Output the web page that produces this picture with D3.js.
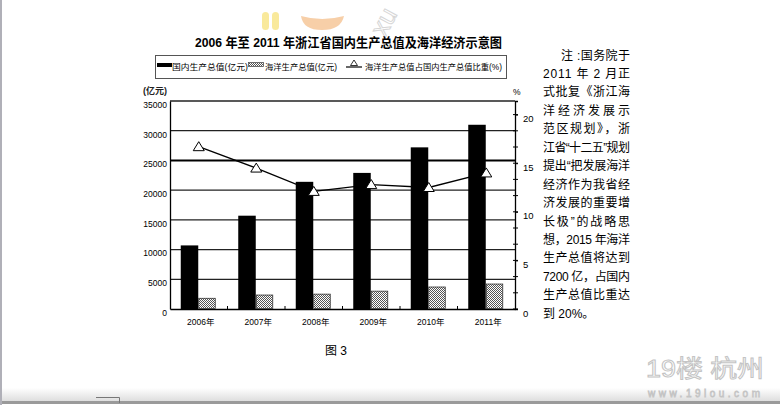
<!DOCTYPE html>
<html><head><meta charset="utf-8">
<script src="https://cdn.jsdelivr.net/npm/d3@7"></script>
<style>body{margin:0;background:#fff;}svg{display:block;}</style>
</head><body>
<script>
const years = ["2006年","2007年","2008年","2009年","2010年","2011年"];
const gdp = [10700, 15700, 21400, 22900, 27200, 31000];
const marine = [1800, 2350, 2500, 3000, 3700, 4200];
const ratio = [16.7, 14.5, 12.1, 12.8, 12.5, 14.0];
const leftTicks = [0,5000,10000,15000,20000,25000,30000,35000];
const rightTicks = [0,5,10,15,20];
const title = "2006 年至 2011 年浙江省国内生产总值及海洋经济示意图";
const legendLabels = ["国内生产总值(亿元)","海洋生产总值(亿元)","海洋生产总值占国内生产总值比重(%)"];
const noteLines = ["注 :国务院于","2011 年 2 月正","式批复《浙江海","洋经济发展示","范区规划》，浙","江省“十二五”规划","提出“把发展海洋","经济作为我省经","济发展的重要增","长极”的战略思","想，2015 年海洋","生产总值将达到","7200 亿，占国内","生产总值比重达","到 20%。"];

const W=780,H=405;
const svg=d3.select("body").append("svg").attr("width",W).attr("height",H);
const defs=svg.append("defs");
const pat=defs.append("pattern").attr("id","hatch").attr("width",2).attr("height",2).attr("patternUnits","userSpaceOnUse");
pat.append("rect").attr("width",2).attr("height",2).attr("fill","#fff");
pat.append("rect").attr("width",1).attr("height",1).attr("fill","#555");
pat.append("rect").attr("x",1).attr("y",1).attr("width",1).attr("height",1).attr("fill","#555");
const grad=defs.append("linearGradient").attr("id","bot").attr("x1",0).attr("x2",0).attr("y1",0).attr("y2",1);
grad.append("stop").attr("offset","0%").attr("stop-color","#fff");
grad.append("stop").attr("offset","100%").attr("stop-color","#dcdcdc");

const fontLat="Arial, 'Liberation Sans', sans-serif";
const fontCJK="'Liberation Sans','Noto Sans CJK SC',sans-serif";

// page decorations
svg.append("rect").attr("x",0).attr("y",388).attr("width",W).attr("height",14).attr("fill","url(#bot)");
svg.append("rect").attr("x",0).attr("y",401).attr("width",W).attr("height",3).attr("fill","#9a9a9a");
svg.append("rect").attr("x",0).attr("y",0).attr("width",2).attr("height",H).attr("fill","#b0b0b8");
svg.append("path").attr("d","M96,397.5H119.5V403").attr("fill","none").attr("stroke","#777").attr("stroke-width",1);

// top watermark
const wm=svg.append("g").attr("opacity",0.85);
wm.append("rect").attr("x",262).attr("y",12).attr("width",7).attr("height",18).attr("rx",3.5).attr("fill","#f9e68a");
wm.append("rect").attr("x",272).attr("y",12).attr("width",7).attr("height",18).attr("rx",3.5).attr("fill","#f9e68a");
wm.append("path").attr("d","M301,16 Q303,30 322,30 Q341,30 344,16 Q322,22 301,16Z").attr("fill","#f6c79a");
wm.append("text").attr("x",0).attr("y",0).attr("transform","translate(385,38) rotate(-62)").attr("font-family",fontLat).attr("font-size",26).attr("fill","#fff").attr("stroke","#d0d0d0").attr("stroke-width",1).text("xu");

// bottom-right watermark
svg.append("text").attr("x",646).attr("y",377).attr("font-family",fontCJK).attr("font-size",24).attr("textLength",118).attr("lengthAdjust","spacingAndGlyphs").attr("fill","#fff").attr("stroke","#c4c4c4").attr("stroke-width",1).text("19楼 杭州");
svg.append("text").attr("x",648).attr("y",397).attr("font-family",fontLat).attr("font-size",10).attr("textLength",112).attr("lengthAdjust","spacing").attr("fill","#fff").attr("stroke","#c4c4c4").attr("stroke-width",0.8).text("www.19lou.com");

// title
svg.append("text").attr("x",195).attr("y",47).attr("font-family",fontCJK).attr("font-weight","bold").attr("font-size",13).attr("textLength",307).attr("lengthAdjust","spacingAndGlyphs").attr("fill","#000").text(title);

// legend
const lg=svg.append("g");
lg.append("rect").attr("x",155.5).attr("y",55.5).attr("width",351).attr("height",23).attr("fill","#fff").attr("stroke","#555").attr("stroke-width",1);
lg.append("rect").attr("x",157).attr("y",63).attr("width",15).attr("height",4).attr("fill","#000");
lg.append("text").attr("x",172).attr("y",70).attr("font-family",fontCJK).attr("font-size",8.5).attr("textLength",76).attr("lengthAdjust","spacingAndGlyphs").text(legendLabels[0]);
lg.append("rect").attr("x",248.5).attr("y",62.5).attr("width",15).attr("height",4).attr("fill","url(#hatch)").attr("stroke","#555").attr("stroke-width",0.8);
lg.append("text").attr("x",265).attr("y",70).attr("font-family",fontCJK).attr("font-size",8.5).attr("textLength",72).attr("lengthAdjust","spacingAndGlyphs").text(legendLabels[1]);
lg.append("line").attr("x1",346).attr("x2",362).attr("y1",67).attr("y2",67).attr("stroke","#000").attr("stroke-width",1.2);
lg.append("path").attr("d","M354,60 L357.5,65.5 L350.5,65.5Z").attr("fill","#fff").attr("stroke","#000").attr("stroke-width",0.8);
lg.append("text").attr("x",365).attr("y",70).attr("font-family",fontCJK).attr("font-size",8.5).attr("textLength",137).attr("lengthAdjust","spacingAndGlyphs").text(legendLabels[2]);

// scales
const L=170,R=515,T=101,B=309;
const x=d3.scaleBand().domain(years).range([L,R]).padding(0);
const x1=d3.scaleBand().domain(["gdp","marine"]).range([x.bandwidth()/2-18,x.bandwidth()/2+17]).padding(0);
const yL=d3.scaleLinear().domain([0,35000]).range([B,T]);
const yR=d3.scaleLinear().domain([0,21.4]).range([B,T]);

// grid
const g=svg.append("g");
g.selectAll("line.grid").data(leftTicks.filter(d=>d>0)).join("line")
 .attr("x1",L).attr("x2",R).attr("y1",d=>yL(d)).attr("y2",d=>yL(d))
 .attr("stroke",d=>d===25000?"#000":"#222").attr("stroke-width",d=>d===25000?2:1.3);

// left axis
const axL=d3.axisLeft(yL).tickValues(leftTicks).tickSize(0).tickPadding(3).tickFormat(d3.format("d"));
const gL=svg.append("g").attr("transform",`translate(${L},0)`).call(axL);
gL.select(".domain").attr("stroke","#000").attr("stroke-width",1.3);
gL.selectAll("text").attr("font-family",fontLat).attr("font-size",8.5).attr("dy","0.75em").attr("fill","#000");
svg.append("text").attr("x",143).attr("y",94).attr("font-family",fontCJK).attr("font-size",9).attr("font-weight","bold").attr("fill","#222").text("(亿元)");

// right axis
const axR=d3.axisRight(yR).tickValues(rightTicks).tickSize(3).tickPadding(5);
const gR=svg.append("g").attr("transform",`translate(${R},0)`).call(axR);
gR.select(".domain").attr("stroke","#000").attr("stroke-width",1.3);
gR.selectAll("line").attr("stroke","#000");
gR.selectAll("text").attr("font-family",fontLat).attr("font-size",9.5).attr("dy","0.75em").attr("fill","#000");
const minor=d3.range(0,21.4,5/3);
svg.append("g").selectAll("line").data(minor).join("line")
 .attr("x1",R-2).attr("x2",R+3).attr("y1",d=>yR(d)).attr("y2",d=>yR(d)).attr("stroke","#000").attr("stroke-width",1);
svg.append("text").attr("x",513).attr("y",95).attr("font-family",fontLat).attr("font-size",8.5).text("%");

// bottom axis
const axB=d3.axisBottom(x).tickSize(0).tickPadding(10);
const gB=svg.append("g").attr("transform",`translate(0,${B})`).call(axB);
gB.select(".domain").attr("stroke","#000").attr("stroke-width",1.5);
gB.selectAll("text").attr("font-family",fontCJK).attr("font-size",8.5).attr("dx",2).attr("fill","#000");
svg.append("g").selectAll("line").data(years.slice(1)).join("line")
 .attr("x1",d=>x(d)).attr("x2",d=>x(d)).attr("y1",B).attr("y2",B-3).attr("stroke","#000");

// bars
svg.append("g").selectAll("rect").data(gdp).join("rect")
 .attr("x",(d,i)=>x(years[i])+x1("gdp")).attr("width",x1.bandwidth())
 .attr("y",d=>yL(d)).attr("height",d=>B-yL(d)).attr("fill","#000");
svg.append("g").selectAll("rect").data(marine).join("rect")
 .attr("x",(d,i)=>x(years[i])+x1("marine")+0.5).attr("width",x1.bandwidth()-1)
 .attr("y",d=>yL(d)).attr("height",d=>B-yL(d)-0.5).attr("fill","url(#hatch)").attr("stroke","#333").attr("stroke-width",0.8);

// ratio line
const pts=ratio.map((v,i)=>[x(years[i])+x.bandwidth()/2,yR(v)]);
svg.append("path").datum(pts).attr("d",d3.line()).attr("fill","none").attr("stroke","#000").attr("stroke-width",1.3);
svg.append("g").selectAll("path").data(pts).join("path")
 .attr("transform",d=>`translate(${d[0]},${d[1]})`)
 .attr("d","M0,-5 L5.5,4 L-5.5,4Z").attr("fill","#fff").attr("stroke","#000").attr("stroke-width",1);

// caption
svg.append("text").attr("x",325).attr("y",355).attr("font-family",fontCJK).attr("font-size",12).text("图 3");

// note text
const nt=svg.append("g").attr("font-family",fontCJK).attr("font-size",12).attr("fill","#000");
noteLines.forEach((s,i)=>{
  const t=nt.append("text").attr("y",59.5+i*18.45).text(s);
  if(i===0){t.attr("x",561).attr("textLength",69).attr("lengthAdjust","spacing");}
  else if(i<noteLines.length-1){t.attr("x",543).attr("textLength",87).attr("lengthAdjust","spacing");}
  else {t.attr("x",543);}
});
</script>
</body></html>
